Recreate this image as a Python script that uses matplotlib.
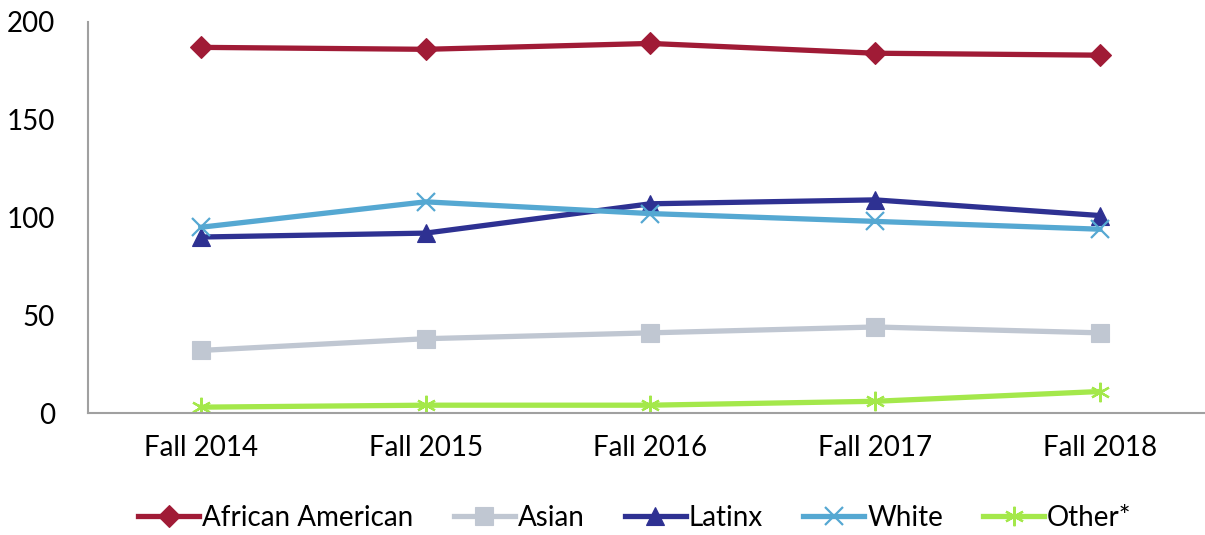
import matplotlib.pyplot as plt

plt.rcParams["font.family"] = ["Lato", "DejaVu Sans"]

terms = ["Fall 2014", "Fall 2015", "Fall 2016", "Fall 2017", "Fall 2018"]
african_american = [187, 186, 189, 184, 183]
asian = [32, 38, 41, 44, 41]
latinx = [90, 92, 107, 109, 101]
white = [95, 108, 102, 98, 94]
other = [3, 4, 4, 6, 11]

series = [
    ("African American", african_american, "#A01B36", "D", 11),
    ("Asian", asian, "#C0C7D2", "s", 13),
    ("Latinx", latinx, "#2E3192", "^", 13),
    ("White", white, "#55A8D2", "x", 13),
    ("Other*", other, "#A4E84B", (6, 2, 0), 14),
]

fig = plt.figure(figsize=(12.05, 5.35), dpi=100)
ax = fig.add_axes([0.0734, 0.228, 0.9326, 0.731])

x = range(len(terms))
for name, vals, color, marker, ms in series:
    ax.plot(x, vals, color=color, linewidth=3.8, marker=marker, markersize=ms,
            markeredgewidth=1.6 if marker in ("x", (6, 2, 0)) else 0.8,
            markeredgecolor=color, label=name, solid_joinstyle="round")

ax.set_xlim(-0.5, 4.5)
ax.set_ylim(0, 200)
ax.set_yticks([0, 50, 100, 150, 200])
ax.set_xticks(list(x))
ax.set_xticklabels(terms)
ax.tick_params(axis="both", length=0, labelsize=20, colors="black")
ax.tick_params(axis="x", pad=16)
ax.tick_params(axis="y", pad=24)
for s in ["top", "right"]:
    ax.spines[s].set_visible(False)
for s in ["left", "bottom"]:
    ax.spines[s].set_color("#A0A0A0")
    ax.spines[s].set_linewidth(1.5)

fig.legend(loc="center", bbox_to_anchor=(0.527, 0.032), ncol=5, frameon=False,
           fontsize=20, handlelength=2.2, handletextpad=0.1, columnspacing=1.45)

fig.savefig("out.png", dpi=100)
